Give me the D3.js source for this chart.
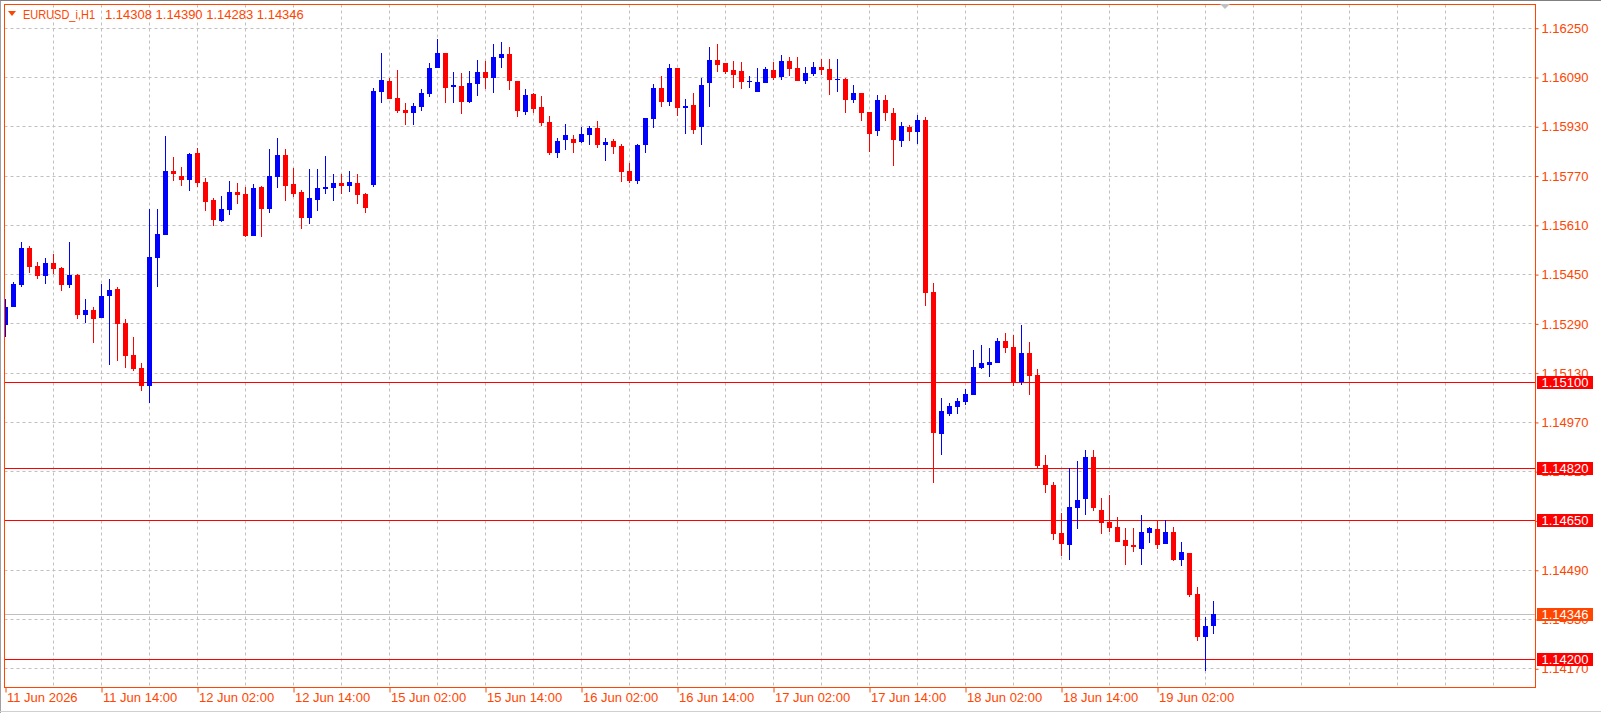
<!DOCTYPE html>
<html>
<head>
<meta charset="utf-8">
<script src="https://cdn.jsdelivr.net/npm/d3@7"></script>
<style>
  html, body { margin: 0; padding: 0; background: #ffffff; }
  svg { display: block; font-family: "Liberation Sans", Arial, sans-serif; }
</style>
</head>
<body>
<div id="chart"></div>
<script>
// EURUSD_i H1 candles, first bar = 11 Jun 02:00
var opens = [
  1.15286, 1.15344, 1.15416, 1.15535, 1.15476, 1.15445, 1.15486, 1.15470, 1.15416, 1.15447,
  1.15318, 1.15333, 1.15308, 1.15380, 1.15402, 1.15291, 1.15187, 1.15145, 1.15088, 1.15503,
  1.15577, 1.15785, 1.15768, 1.15755, 1.15843, 1.15749, 1.15690, 1.15622, 1.15658, 1.15716,
  1.15710, 1.15574, 1.15733, 1.15661, 1.15765, 1.15837, 1.15742, 1.15716, 1.15632, 1.15690,
  1.15726, 1.15730, 1.15746, 1.15736, 1.15746, 1.15710, 1.15739, 1.16041, 1.16077, 1.16022,
  1.15983, 1.15973, 1.15993, 1.16035, 1.16119, 1.16168, 1.16057, 1.16061, 1.16009, 1.16067,
  1.16106, 1.16087, 1.16152, 1.16165, 1.16077, 1.15976, 1.16035, 1.15993, 1.15944, 1.15843,
  1.15885, 1.15889, 1.15879, 1.15902, 1.15924, 1.15869, 1.15882, 1.15866, 1.15785, 1.15752,
  1.15869, 1.15954, 1.16054, 1.16010, 1.16119, 1.15989, 1.15999, 1.15927, 1.16070, 1.16145,
  1.16135, 1.16113, 1.16109, 1.16074, 1.16041, 1.16070, 1.16113, 1.16090, 1.16142, 1.16119,
  1.16077, 1.16100, 1.16122, 1.16116, 1.16080, 1.16083, 1.16015, 1.16038, 1.15976, 1.15915,
  1.16015, 1.15973, 1.15882, 1.15928, 1.15911, 1.15950, 1.15392, 1.14931, 1.14996, 1.15018,
  1.15035, 1.15058, 1.15145, 1.15155, 1.15161, 1.15233, 1.15213, 1.15101, 1.15194, 1.15122,
  1.14830, 1.14765, 1.14609, 1.14570, 1.14690, 1.14720, 1.14856, 1.14684, 1.14645, 1.14629,
  1.14587, 1.14570, 1.14557, 1.14609, 1.14622, 1.14573, 1.14613, 1.14521, 1.14544, 1.14411,
  1.14272, 1.14308
];
var highs = [
  1.15369, 1.15424, 1.15554, 1.15541, 1.15489, 1.15502, 1.15515, 1.15473, 1.15554, 1.15450,
  1.15369, 1.15342, 1.15418, 1.15434, 1.15408, 1.15304, 1.15246, 1.15161, 1.15661, 1.15661,
  1.15898, 1.15830, 1.15798, 1.15843, 1.15859, 1.15762, 1.15697, 1.15703, 1.15752, 1.15746,
  1.15733, 1.15742, 1.15736, 1.15856, 1.15892, 1.15856, 1.15794, 1.15723, 1.15791, 1.15791,
  1.15833, 1.15775, 1.15775, 1.15785, 1.15775, 1.15713, 1.16054, 1.16168, 1.16087, 1.16113,
  1.16007, 1.16007, 1.16051, 1.16135, 1.16213, 1.16169, 1.16106, 1.16103, 1.16109, 1.16145,
  1.16142, 1.16197, 1.16204, 1.16188, 1.16078, 1.16051, 1.16038, 1.16028, 1.15963, 1.15892,
  1.15937, 1.15902, 1.15929, 1.15931, 1.15947, 1.15892, 1.15889, 1.15872, 1.15811, 1.15872,
  1.15958, 1.16067, 1.16093, 1.16132, 1.16120, 1.16018, 1.16038, 1.16087, 1.16188, 1.16197,
  1.16136, 1.16142, 1.16139, 1.16093, 1.16119, 1.16122, 1.16139, 1.16161, 1.16155, 1.16155,
  1.16122, 1.16139, 1.16148, 1.16148, 1.16148, 1.16087, 1.16064, 1.16039, 1.15977, 1.16031,
  1.16031, 1.15989, 1.15944, 1.15934, 1.15967, 1.15960, 1.15421, 1.15048, 1.15031, 1.15048,
  1.15077, 1.15203, 1.15220, 1.15210, 1.15243, 1.15259, 1.15252, 1.15285, 1.15229, 1.15142,
  1.14863, 1.14775, 1.14673, 1.14820, 1.14843, 1.14878, 1.14878, 1.14723, 1.14733, 1.14660,
  1.14625, 1.14625, 1.14668, 1.14629, 1.14652, 1.14652, 1.14629, 1.14580, 1.14545, 1.14434,
  1.14337, 1.14390
];
var lows = [
  1.15247, 1.15343, 1.15409, 1.15454, 1.15435, 1.15419, 1.15449, 1.15396, 1.15406, 1.15305,
  1.15292, 1.15227, 1.15307, 1.15156, 1.15169, 1.15146, 1.15136, 1.15071, 1.15031, 1.15409,
  1.15576, 1.15752, 1.15736, 1.15720, 1.15733, 1.15655, 1.15606, 1.15619, 1.15642, 1.15678,
  1.15571, 1.15573, 1.15570, 1.15648, 1.15730, 1.15687, 1.15700, 1.15596, 1.15613, 1.15655,
  1.15710, 1.15687, 1.15710, 1.15716, 1.15678, 1.15648, 1.15733, 1.16006, 1.16017, 1.15973,
  1.15934, 1.15934, 1.15980, 1.16025, 1.16118, 1.16006, 1.16007, 1.15970, 1.16006, 1.16028,
  1.16051, 1.16038, 1.16119, 1.16048, 1.15960, 1.15967, 1.15973, 1.15931, 1.15837, 1.15827,
  1.15853, 1.15843, 1.15876, 1.15869, 1.15859, 1.15817, 1.15840, 1.15749, 1.15746, 1.15742,
  1.15843, 1.15924, 1.15993, 1.15996, 1.15963, 1.15905, 1.15905, 1.15869, 1.15993, 1.16106,
  1.16100, 1.16054, 1.16051, 1.16054, 1.16040, 1.16069, 1.16080, 1.16080, 1.16093, 1.16076,
  1.16067, 1.16093, 1.16096, 1.16031, 1.16041, 1.15973, 1.16006, 1.15947, 1.15846, 1.15898,
  1.15947, 1.15801, 1.15863, 1.15882, 1.15872, 1.15346, 1.14772, 1.14863, 1.14989, 1.14996,
  1.15025, 1.15057, 1.15142, 1.15115, 1.15160, 1.15194, 1.15088, 1.15091, 1.15057, 1.14820,
  1.14740, 1.14587, 1.14534, 1.14521, 1.14623, 1.14668, 1.14681, 1.14606, 1.14613, 1.14579,
  1.14504, 1.14548, 1.14507, 1.14577, 1.14557, 1.14572, 1.14518, 1.14502, 1.14401, 1.14259,
  1.14162, 1.14283
];
var closes = [
  1.15343, 1.15418, 1.15535, 1.15474, 1.15445, 1.15486, 1.15467, 1.15416, 1.15447, 1.15318,
  1.15333, 1.15305, 1.15379, 1.15398, 1.15289, 1.15185, 1.15143, 1.15088, 1.15505, 1.15580,
  1.15785, 1.15775, 1.15755, 1.15840, 1.15746, 1.15684, 1.15625, 1.15661, 1.15716, 1.15707,
  1.15574, 1.15730, 1.15661, 1.15768, 1.15837, 1.15736, 1.15710, 1.15632, 1.15697, 1.15730,
  1.15733, 1.15746, 1.15736, 1.15749, 1.15707, 1.15664, 1.16044, 1.16080, 1.16018, 1.15980,
  1.15973, 1.15996, 1.16038, 1.16119, 1.16168, 1.16054, 1.16064, 1.16009, 1.16070, 1.16106,
  1.16087, 1.16155, 1.16165, 1.16077, 1.15980, 1.16031, 1.15986, 1.15940, 1.15843, 1.15882,
  1.15902, 1.15876, 1.15905, 1.15924, 1.15869, 1.15879, 1.15863, 1.15781, 1.15752, 1.15869,
  1.15957, 1.16054, 1.16009, 1.16119, 1.15989, 1.15996, 1.15918, 1.16064, 1.16145, 1.16129,
  1.16106, 1.16096, 1.16074, 1.16077, 1.16074, 1.16116, 1.16087, 1.16142, 1.16116, 1.16077,
  1.16103, 1.16122, 1.16113, 1.16080, 1.16083, 1.16015, 1.16038, 1.15973, 1.15905, 1.16015,
  1.15973, 1.15885, 1.15931, 1.15911, 1.15950, 1.15389, 1.14934, 1.15005, 1.15022, 1.15038,
  1.15061, 1.15148, 1.15161, 1.15164, 1.15233, 1.15210, 1.15101, 1.15194, 1.15118, 1.14827,
  1.14765, 1.14606, 1.14573, 1.14694, 1.14717, 1.14856, 1.14690, 1.14642, 1.14625, 1.14580,
  1.14567, 1.14563, 1.14613, 1.14625, 1.14570, 1.14613, 1.14521, 1.14548, 1.14408, 1.14272,
  1.14308, 1.14346
];

var timeLabels = ["11 Jun 2026", "11 Jun 14:00", "12 Jun 02:00", "12 Jun 14:00", "15 Jun 02:00",
  "15 Jun 14:00", "16 Jun 02:00", "16 Jun 14:00", "17 Jun 02:00", "17 Jun 14:00",
  "18 Jun 02:00", "18 Jun 14:00", "19 Jun 02:00"];
var priceTicks = [1.16250, 1.16090, 1.15930, 1.15770, 1.15610, 1.15450, 1.15290, 1.15130,
  1.14970, 1.14810, 1.14650, 1.14490, 1.14330, 1.14170];
var levels = [1.15100, 1.14820, 1.14650, 1.14200];
var bid = 1.14346;
var symbol = "EURUSD_i,H1";

var orange = "#ff4500";
var svgWidth = 1601, svgHeight = 713;
var plot = { left: 4.5, top: 4.5, right: 1535.5, bottom: 687.5 };

var svg = d3.select("#chart").append("svg")
  .attr("width", svgWidth)
  .attr("height", svgHeight);

// window frame
svg.append("line").attr("x1", 0.5).attr("x2", 0.5).attr("y1", 0).attr("y2", svgHeight)
  .attr("stroke", "#a0a0a0");
svg.append("line").attr("x1", 0).attr("x2", svgWidth).attr("y1", 0.5).attr("y2", 0.5)
  .attr("stroke", "#808080");
svg.append("line").attr("x1", 0).attr("x2", svgWidth).attr("y1", 711.5).attr("y2", 711.5)
  .attr("stroke", "#d0d0d0");

// scales: one bar every 8px
var x = d3.scaleLinear().domain([0, 190]).range([5.5, 1525.5]);
var y = d3.scaleLinear().domain([1.141093, 1.163270]).range([687, 4]);

svg.append("clipPath").attr("id", "clip")
  .append("rect")
  .attr("x", plot.left + 0.5).attr("y", plot.top + 0.5)
  .attr("width", plot.right - plot.left - 1).attr("height", plot.bottom - plot.top - 1);

var grid = svg.append("g").attr("clip-path", "url(#clip)")
  .attr("stroke", "#c0c0c0").attr("stroke-dasharray", "3,3");

grid.selectAll("line.h").data(priceTicks).enter().append("line")
  .attr("class", "h")
  .attr("x1", plot.left).attr("x2", plot.right)
  .attr("y1", d => Math.round(y(d)) + 0.5)
  .attr("y2", d => Math.round(y(d)) + 0.5);

grid.selectAll("line.v").data(d3.range(6, 190, 6)).enter().append("line")
  .attr("class", "v")
  .attr("x1", d => x(d)).attr("x2", d => x(d))
  .attr("y1", plot.top).attr("y2", plot.bottom);

// bid line and levels
var lines = svg.append("g").attr("clip-path", "url(#clip)");
lines.append("line")
  .attr("x1", plot.left).attr("x2", plot.right)
  .attr("y1", Math.round(y(bid)) + 0.5).attr("y2", Math.round(y(bid)) + 0.5)
  .attr("stroke", "#c0c0c0");
lines.selectAll("line.level").data(levels).enter().append("line")
  .attr("class", "level")
  .attr("x1", plot.left).attr("x2", plot.right)
  .attr("y1", d => Math.round(y(d)) + 0.5)
  .attr("y2", d => Math.round(y(d)) + 0.5)
  .attr("stroke", "#ff0000");

// candles
var candles = svg.append("g").attr("clip-path", "url(#clip)")
  .selectAll("g").data(opens).enter().append("g")
  .attr("fill", (d, i) => closes[i] >= opens[i] ? "#0000ff" : "#ff0000");

candles.append("rect")
  .attr("x", (d, i) => x(i) - 0.5)
  .attr("width", 1)
  .attr("y", (d, i) => Math.round(y(highs[i])))
  .attr("height", (d, i) => Math.max(1, Math.round(y(lows[i])) - Math.round(y(highs[i]))));

candles.append("rect")
  .attr("x", (d, i) => x(i) - 2.5)
  .attr("width", 5)
  .attr("y", (d, i) => Math.round(y(Math.max(opens[i], closes[i]))))
  .attr("height", (d, i) => Math.max(1,
    Math.round(y(Math.min(opens[i], closes[i]))) - Math.round(y(Math.max(opens[i], closes[i])))));

// plot frame
svg.append("rect")
  .attr("x", plot.left).attr("y", plot.top)
  .attr("width", plot.right - plot.left).attr("height", plot.bottom - plot.top)
  .attr("fill", "none").attr("stroke", orange);

// price axis
var priceAxis = d3.axisRight(y)
  .tickValues(priceTicks)
  .tickFormat(d3.format(".5f"))
  .tickSize(3)
  .tickPadding(3);
var pa = svg.append("g")
  .attr("transform", `translate(${plot.right}, 0.5)`)
  .call(priceAxis);
pa.select(".domain").remove();
pa.selectAll("line").attr("stroke", orange);
pa.selectAll("text").attr("fill", orange).style("font-size", "13px")
  .style("font-family", "'Liberation Sans', Arial, sans-serif");

// time axis
var timeAxis = d3.axisBottom(x)
  .tickValues(d3.range(0, timeLabels.length * 12, 12))
  .tickFormat((d, i) => timeLabels[i])
  .tickSize(5)
  .tickPadding(0);
var ta = svg.append("g")
  .attr("transform", `translate(0, ${plot.bottom})`)
  .call(timeAxis);
ta.select(".domain").remove();
ta.selectAll("line").attr("stroke", orange);
ta.selectAll("text").attr("fill", orange).attr("text-anchor", "start").attr("x", 1)
  .style("font-size", "13px")
  .style("font-family", "'Liberation Sans', Arial, sans-serif");

// level labels on the price axis
var tags = svg.append("g");
function tag(v, color) {
  var yy = Math.round(y(v));
  tags.append("rect")
    .attr("x", 1537).attr("y", yy - 6)
    .attr("width", 56).attr("height", 13)
    .attr("fill", color);
  tags.append("text")
    .attr("x", 1541.5).attr("y", yy + 0.5).attr("dy", "0.35em")
    .attr("fill", "#ffffff").style("font-size", "13px")
    .text(d3.format(".5f")(v));
}
levels.forEach(v => tag(v, "#ff0000"));
tag(bid, orange);

// header
svg.append("path")
  .attr("d", "M8,11 L16,11 L12,16 Z")
  .attr("fill", orange);
svg.append("text")
  .attr("x", 23).attr("y", 18.5)
  .attr("fill", orange).style("font-size", "13px")
  .attr("textLength", 72).attr("lengthAdjust", "spacingAndGlyphs")
  .text(symbol);
svg.append("text")
  .attr("x", 105).attr("y", 18.5)
  .attr("fill", orange).style("font-size", "13px")
  .attr("xml:space", "preserve")
  .text([opens[151], highs[151], lows[151], closes[151]].map(d3.format(".5f")).join(" "));

// chart shift marker
svg.append("path")
  .attr("d", "M1220,4 L1230,4 L1225,9 Z")
  .attr("fill", "#c0c0c0");
</script>
</body>
</html>
